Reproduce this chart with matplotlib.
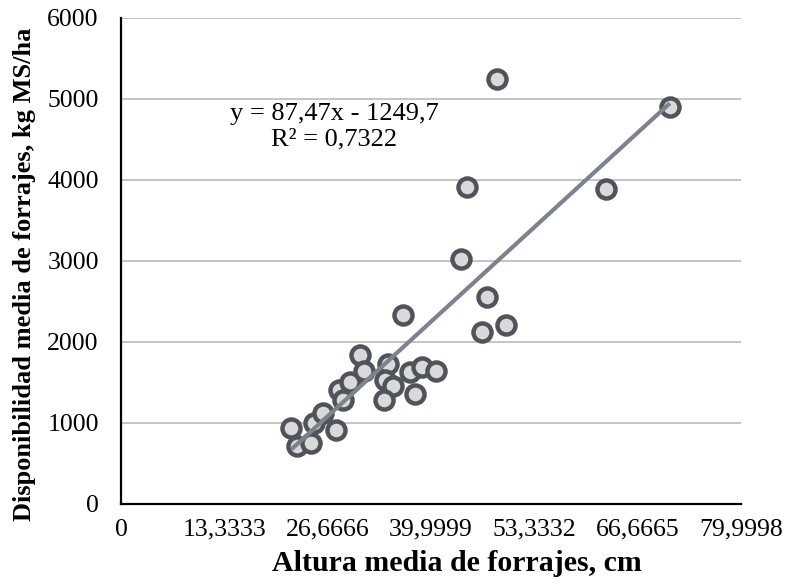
import numpy as np
import matplotlib.pyplot as plt
from matplotlib.ticker import FixedLocator, FixedFormatter

plt.rcParams['font.family'] = ['Liberation Serif', 'DejaVu Serif']

# datos
altura = [22.0, 22.7, 24.5, 24.9, 26.1, 27.7, 28.2, 28.6, 29.5, 30.9,
          31.4, 34.4, 34.1, 35.1, 34.0, 37.3, 38.8, 40.6, 37.9, 36.4,
          43.9, 44.6, 48.5, 47.2, 46.6, 49.7, 62.6, 70.85]
disponibilidad = [940, 710, 750, 1000, 1120, 910, 1410, 1280, 1510, 1835,
                  1640, 1730, 1531, 1455, 1280, 1634, 1690, 1646, 1360, 2333,
                  3021, 3910, 5245, 2556, 2125, 2205, 3890, 4905]

# linea de tendencia (segun la ecuacion del grafico)
pendiente, intercepto = 87.47, -1249.7
ecuacion = 'y = 87,47x - 1249,7\nR² = 0,7322'

x_ticks = [0, 13.3333, 26.6666, 39.9999, 53.3332, 66.6665, 79.9998]
x_tick_labels = ['0', '13,3333', '26,6666', '39,9999', '53,3332', '66,6665', '79,9998']
y_ticks = [0, 1000, 2000, 3000, 4000, 5000, 6000]

fig = plt.figure(figsize=(7.88, 5.88), dpi=100)
ax = fig.add_axes([0.1536, 0.1429, 0.7864, 0.8265])

ax.grid(axis='y', color='#bfbfbf', linewidth=1.3, zorder=0)

x_line = np.array([min(altura), max(altura)])
ax.plot(x_line, pendiente * x_line + intercepto, color='#7d838e',
        linewidth=3, solid_capstyle='butt', zorder=3)

ax.plot(altura, disponibilidad, linestyle='none', marker='o', markersize=13,
        markerfacecolor='#d9d9d9', markeredgecolor='#50545a',
        markeredgewidth=3.2, zorder=2)

ax.text(27.5, 4660, ecuacion, ha='center', va='center', fontsize=19,
        linespacing=1.2)

ax.set_xlim(0, 79.9998)
ax.set_ylim(0, 6000)
ax.xaxis.set_major_locator(FixedLocator(x_ticks))
ax.xaxis.set_major_formatter(FixedFormatter(x_tick_labels))
ax.set_yticks(y_ticks)
ax.tick_params(axis='both', length=0, labelsize=18.5)
ax.tick_params(axis='x', pad=10.5)
ax.tick_params(axis='y', pad=16)

for side in ['top', 'right']:
    ax.spines[side].set_visible(False)
for side in ['left', 'bottom']:
    ax.spines[side].set_linewidth(1.6)
    ax.spines[side].set_color('black')

ax.set_xlabel('Altura media de forrajes, cm', fontsize=21.5, fontweight='bold')
ax.set_ylabel('Disponibilidad media de forrajes, kg MS/ha', fontsize=19,
              fontweight='bold')
ax.xaxis.set_label_coords(0.542, -0.095)
ax.yaxis.set_label_coords(-0.138, 0.473)

fig.savefig('out.png', dpi=100)
